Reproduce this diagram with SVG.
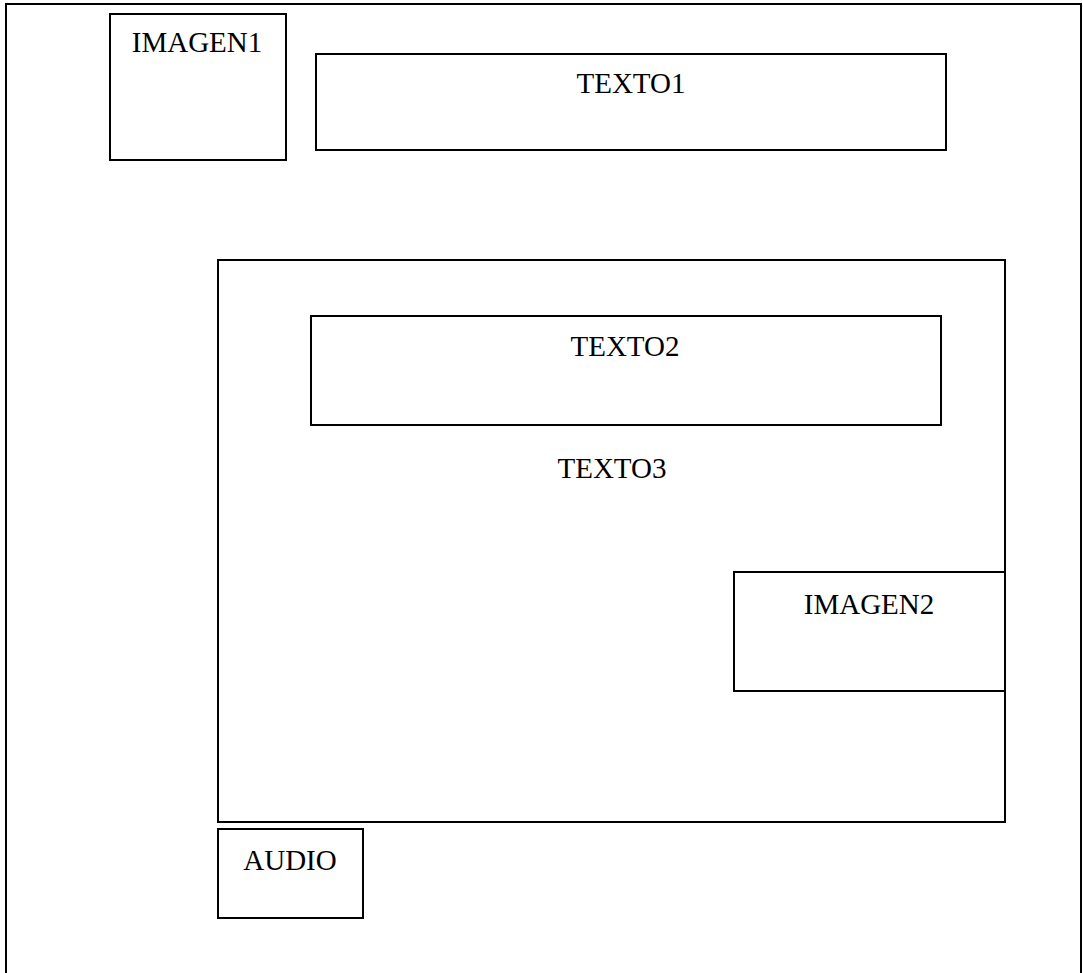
<svg xmlns="http://www.w3.org/2000/svg" width="1083" height="973" viewBox="0 0 1083 973">
<style>
.box{fill:none;stroke:#000;stroke-width:2}
.lbl{font-family:"Liberation Serif","Times New Roman",serif;font-size:29px;fill:#000;text-anchor:middle}
</style>
<rect width="1083" height="973" fill="#fff"/>
<g id="page"><rect class="box" x="6" y="4" width="1075" height="990"/></g>
<g id="imagen1"><rect class="box" x="110" y="14" width="176" height="146"/><text class="lbl" x="197" y="52">IMAGEN1</text></g>
<g id="texto1"><rect class="box" x="316" y="54" width="630" height="96"/><text class="lbl" x="631" y="93">TEXTO1</text></g>
<g id="contenedor"><rect class="box" x="218" y="260" width="787" height="562"/></g>
<g id="texto2"><rect class="box" x="311" y="316" width="630" height="109"/><text class="lbl" x="625" y="356">TEXTO2</text></g>
<g id="texto3"><text class="lbl" x="612" y="478">TEXTO3</text></g>
<g id="imagen2"><rect class="box" x="734" y="572" width="271" height="119"/><text class="lbl" x="869" y="614">IMAGEN2</text></g>
<g id="audio"><rect class="box" x="218" y="829" width="145" height="89"/><text class="lbl" x="290" y="870">AUDIO</text></g>
<g id="connectors"></g>
</svg>
